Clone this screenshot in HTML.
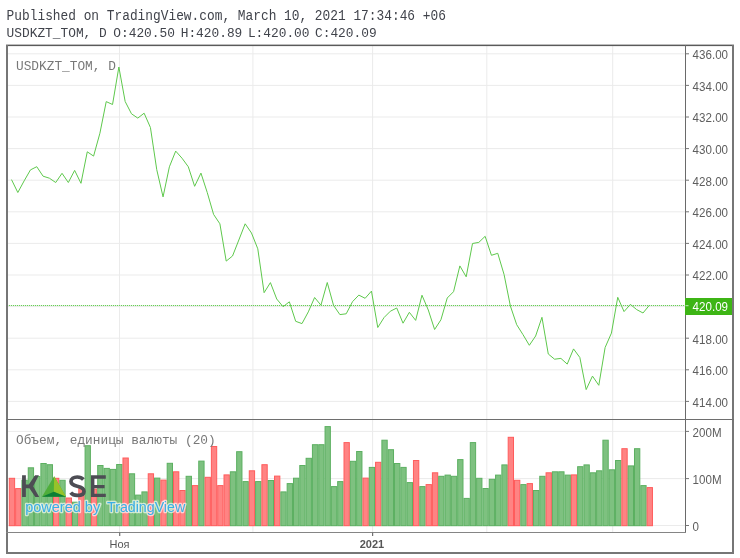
<!DOCTYPE html>
<html><head><meta charset="utf-8">
<style>
html,body{margin:0;padding:0;background:#fff;}
body{width:740px;height:558px;position:relative;overflow:hidden;}
.mono{position:absolute;font-family:"Liberation Mono",monospace;white-space:pre;color:#363a44;line-height:1;}
svg{position:absolute;left:0;top:0;will-change:transform;}
.ax{font-family:"Liberation Sans",sans-serif;font-size:11.6px;fill:#555;}
.tl{font-family:"Liberation Sans",sans-serif;font-size:11px;fill:#555;}
.logo{font-family:"Liberation Sans",sans-serif;font-size:30px;fill:#4d4d54;}
.pb{font-family:"Liberation Sans",sans-serif;font-size:14.5px;fill:#3aaee6;stroke:rgba(255,255,255,0.65);stroke-width:2.6px;paint-order:stroke;stroke-linejoin:round;}
.hd{font-family:"Liberation Mono",monospace;font-size:12.85px;fill:#40434b;}
.leg{font-family:"Liberation Mono",monospace;font-size:12.8px;fill:#787878;}
</style></head><body>
<svg width="740" height="558" viewBox="0 0 740 558">
<line x1="7.0" y1="401.4" x2="685.5" y2="401.4" stroke="#ebebeb" stroke-width="1"/>
<line x1="7.0" y1="369.8" x2="685.5" y2="369.8" stroke="#ebebeb" stroke-width="1"/>
<line x1="7.0" y1="338.2" x2="685.5" y2="338.2" stroke="#ebebeb" stroke-width="1"/>
<line x1="7.0" y1="306.6" x2="685.5" y2="306.6" stroke="#ebebeb" stroke-width="1"/>
<line x1="7.0" y1="275" x2="685.5" y2="275" stroke="#ebebeb" stroke-width="1"/>
<line x1="7.0" y1="243.4" x2="685.5" y2="243.4" stroke="#ebebeb" stroke-width="1"/>
<line x1="7.0" y1="211.8" x2="685.5" y2="211.8" stroke="#ebebeb" stroke-width="1"/>
<line x1="7.0" y1="180.2" x2="685.5" y2="180.2" stroke="#ebebeb" stroke-width="1"/>
<line x1="7.0" y1="148.6" x2="685.5" y2="148.6" stroke="#ebebeb" stroke-width="1"/>
<line x1="7.0" y1="117" x2="685.5" y2="117" stroke="#ebebeb" stroke-width="1"/>
<line x1="7.0" y1="85.4" x2="685.5" y2="85.4" stroke="#ebebeb" stroke-width="1"/>
<line x1="7.0" y1="53.8" x2="685.5" y2="53.8" stroke="#ebebeb" stroke-width="1"/>
<line x1="119.5" y1="45.5" x2="119.5" y2="532.5" stroke="#ebebeb" stroke-width="1"/>
<line x1="252.9" y1="45.5" x2="252.9" y2="532.5" stroke="#ebebeb" stroke-width="1"/>
<line x1="372.6" y1="45.5" x2="372.6" y2="532.5" stroke="#ebebeb" stroke-width="1"/>
<line x1="486.8" y1="45.5" x2="486.8" y2="532.5" stroke="#ebebeb" stroke-width="1"/>
<line x1="612.7" y1="45.5" x2="612.7" y2="532.5" stroke="#ebebeb" stroke-width="1"/>
<line x1="7.0" y1="431.4" x2="685.5" y2="431.4" stroke="#ebebeb" stroke-width="1"/>
<line x1="7.0" y1="478.6" x2="685.5" y2="478.6" stroke="#ebebeb" stroke-width="1"/>
<line x1="7.0" y1="525.5" x2="685.5" y2="525.5" stroke="#ebebeb" stroke-width="1"/>
<rect x="9.3" y="478.3" width="5.32" height="47.4" fill="#ff8383" stroke="#ff5c5c" stroke-width="1"/>
<rect x="15.62" y="488.6" width="5.32" height="37.1" fill="#ff8383" stroke="#ff5c5c" stroke-width="1"/>
<rect x="21.93" y="480.2" width="5.32" height="45.5" fill="#7ec180" stroke="#5cb061" stroke-width="1"/>
<rect x="28.25" y="467.8" width="5.32" height="57.9" fill="#7ec180" stroke="#5cb061" stroke-width="1"/>
<rect x="34.56" y="476.5" width="5.32" height="49.2" fill="#7ec180" stroke="#5cb061" stroke-width="1"/>
<rect x="40.88" y="463.5" width="5.32" height="62.2" fill="#7ec180" stroke="#5cb061" stroke-width="1"/>
<rect x="47.19" y="464.7" width="5.32" height="61" fill="#7ec180" stroke="#5cb061" stroke-width="1"/>
<rect x="53.51" y="478.3" width="5.32" height="47.4" fill="#ff8383" stroke="#ff5c5c" stroke-width="1"/>
<rect x="59.82" y="480.3" width="5.32" height="45.4" fill="#7ec180" stroke="#5cb061" stroke-width="1"/>
<rect x="66.14" y="498" width="5.32" height="27.7" fill="#ff8383" stroke="#ff5c5c" stroke-width="1"/>
<rect x="72.45" y="502.2" width="5.32" height="23.5" fill="#7ec180" stroke="#5cb061" stroke-width="1"/>
<rect x="78.77" y="488.7" width="5.32" height="37" fill="#ff8383" stroke="#ff5c5c" stroke-width="1"/>
<rect x="85.08" y="445.7" width="5.32" height="80" fill="#7ec180" stroke="#5cb061" stroke-width="1"/>
<rect x="91.39" y="489.1" width="5.32" height="36.6" fill="#ff8383" stroke="#ff5c5c" stroke-width="1"/>
<rect x="97.71" y="465.5" width="5.32" height="60.2" fill="#7ec180" stroke="#5cb061" stroke-width="1"/>
<rect x="104.03" y="468.4" width="5.32" height="57.3" fill="#7ec180" stroke="#5cb061" stroke-width="1"/>
<rect x="110.34" y="469.4" width="5.32" height="56.3" fill="#7ec180" stroke="#5cb061" stroke-width="1"/>
<rect x="116.66" y="464.5" width="5.32" height="61.2" fill="#7ec180" stroke="#5cb061" stroke-width="1"/>
<rect x="122.97" y="458" width="5.32" height="67.7" fill="#ff8383" stroke="#ff5c5c" stroke-width="1"/>
<rect x="129.29" y="473.8" width="5.32" height="51.9" fill="#7ec180" stroke="#5cb061" stroke-width="1"/>
<rect x="135.6" y="495.1" width="5.32" height="30.6" fill="#7ec180" stroke="#5cb061" stroke-width="1"/>
<rect x="141.92" y="491.9" width="5.32" height="33.8" fill="#7ec180" stroke="#5cb061" stroke-width="1"/>
<rect x="148.23" y="473.8" width="5.32" height="51.9" fill="#ff8383" stroke="#ff5c5c" stroke-width="1"/>
<rect x="154.55" y="478.1" width="5.32" height="47.6" fill="#7ec180" stroke="#5cb061" stroke-width="1"/>
<rect x="160.86" y="480.1" width="5.32" height="45.6" fill="#ff8383" stroke="#ff5c5c" stroke-width="1"/>
<rect x="167.18" y="463.3" width="5.32" height="62.4" fill="#7ec180" stroke="#5cb061" stroke-width="1"/>
<rect x="173.49" y="471.8" width="5.32" height="53.9" fill="#ff8383" stroke="#ff5c5c" stroke-width="1"/>
<rect x="179.81" y="490.5" width="5.32" height="35.2" fill="#ff8383" stroke="#ff5c5c" stroke-width="1"/>
<rect x="186.12" y="476.3" width="5.32" height="49.4" fill="#7ec180" stroke="#5cb061" stroke-width="1"/>
<rect x="192.44" y="485.6" width="5.32" height="40.1" fill="#ff8383" stroke="#ff5c5c" stroke-width="1"/>
<rect x="198.75" y="461.1" width="5.32" height="64.6" fill="#7ec180" stroke="#5cb061" stroke-width="1"/>
<rect x="205.07" y="477.3" width="5.32" height="48.4" fill="#ff8383" stroke="#ff5c5c" stroke-width="1"/>
<rect x="211.38" y="446.5" width="5.32" height="79.2" fill="#ff8383" stroke="#ff5c5c" stroke-width="1"/>
<rect x="217.7" y="485.6" width="5.32" height="40.1" fill="#ff8383" stroke="#ff5c5c" stroke-width="1"/>
<rect x="224.01" y="474.9" width="5.32" height="50.8" fill="#ff8383" stroke="#ff5c5c" stroke-width="1"/>
<rect x="230.33" y="471.8" width="5.32" height="53.9" fill="#7ec180" stroke="#5cb061" stroke-width="1"/>
<rect x="236.64" y="451.7" width="5.32" height="74" fill="#7ec180" stroke="#5cb061" stroke-width="1"/>
<rect x="242.96" y="481.6" width="5.32" height="44.1" fill="#7ec180" stroke="#5cb061" stroke-width="1"/>
<rect x="249.27" y="470.8" width="5.32" height="54.9" fill="#ff8383" stroke="#ff5c5c" stroke-width="1"/>
<rect x="255.59" y="481.6" width="5.32" height="44.1" fill="#7ec180" stroke="#5cb061" stroke-width="1"/>
<rect x="261.9" y="464.7" width="5.32" height="61" fill="#ff8383" stroke="#ff5c5c" stroke-width="1"/>
<rect x="268.22" y="480.5" width="5.32" height="45.2" fill="#7ec180" stroke="#5cb061" stroke-width="1"/>
<rect x="274.53" y="476.1" width="5.32" height="49.6" fill="#ff8383" stroke="#ff5c5c" stroke-width="1"/>
<rect x="280.85" y="491.9" width="5.32" height="33.8" fill="#7ec180" stroke="#5cb061" stroke-width="1"/>
<rect x="287.16" y="483.6" width="5.32" height="42.1" fill="#7ec180" stroke="#5cb061" stroke-width="1"/>
<rect x="293.48" y="478.2" width="5.32" height="47.5" fill="#7ec180" stroke="#5cb061" stroke-width="1"/>
<rect x="299.79" y="465.5" width="5.32" height="60.2" fill="#7ec180" stroke="#5cb061" stroke-width="1"/>
<rect x="306.11" y="458.3" width="5.32" height="67.4" fill="#7ec180" stroke="#5cb061" stroke-width="1"/>
<rect x="312.42" y="444.7" width="5.32" height="81" fill="#7ec180" stroke="#5cb061" stroke-width="1"/>
<rect x="318.74" y="444.7" width="5.32" height="81" fill="#7ec180" stroke="#5cb061" stroke-width="1"/>
<rect x="325.05" y="426.6" width="5.32" height="99.1" fill="#7ec180" stroke="#5cb061" stroke-width="1"/>
<rect x="331.37" y="486.6" width="5.32" height="39.1" fill="#7ec180" stroke="#5cb061" stroke-width="1"/>
<rect x="337.68" y="481.6" width="5.32" height="44.1" fill="#7ec180" stroke="#5cb061" stroke-width="1"/>
<rect x="344" y="442.6" width="5.32" height="83.1" fill="#ff8383" stroke="#ff5c5c" stroke-width="1"/>
<rect x="350.31" y="461.3" width="5.32" height="64.4" fill="#7ec180" stroke="#5cb061" stroke-width="1"/>
<rect x="356.63" y="451.5" width="5.32" height="74.2" fill="#7ec180" stroke="#5cb061" stroke-width="1"/>
<rect x="362.94" y="478.1" width="5.32" height="47.6" fill="#ff8383" stroke="#ff5c5c" stroke-width="1"/>
<rect x="369.26" y="467.4" width="5.32" height="58.3" fill="#7ec180" stroke="#5cb061" stroke-width="1"/>
<rect x="375.57" y="462.3" width="5.32" height="63.4" fill="#ff8383" stroke="#ff5c5c" stroke-width="1"/>
<rect x="381.89" y="440.2" width="5.32" height="85.5" fill="#7ec180" stroke="#5cb061" stroke-width="1"/>
<rect x="388.2" y="449.7" width="5.32" height="76" fill="#7ec180" stroke="#5cb061" stroke-width="1"/>
<rect x="394.52" y="463.5" width="5.32" height="62.2" fill="#7ec180" stroke="#5cb061" stroke-width="1"/>
<rect x="400.83" y="467.4" width="5.32" height="58.3" fill="#7ec180" stroke="#5cb061" stroke-width="1"/>
<rect x="407.15" y="482.6" width="5.32" height="43.1" fill="#7ec180" stroke="#5cb061" stroke-width="1"/>
<rect x="413.46" y="460.5" width="5.32" height="65.2" fill="#ff8383" stroke="#ff5c5c" stroke-width="1"/>
<rect x="419.78" y="486.6" width="5.32" height="39.1" fill="#7ec180" stroke="#5cb061" stroke-width="1"/>
<rect x="426.09" y="484.6" width="5.32" height="41.1" fill="#ff8383" stroke="#ff5c5c" stroke-width="1"/>
<rect x="432.41" y="472.8" width="5.32" height="52.9" fill="#ff8383" stroke="#ff5c5c" stroke-width="1"/>
<rect x="438.72" y="476.3" width="5.32" height="49.4" fill="#7ec180" stroke="#5cb061" stroke-width="1"/>
<rect x="445.04" y="475.1" width="5.32" height="50.6" fill="#7ec180" stroke="#5cb061" stroke-width="1"/>
<rect x="451.35" y="476.3" width="5.32" height="49.4" fill="#7ec180" stroke="#5cb061" stroke-width="1"/>
<rect x="457.67" y="459.6" width="5.32" height="66.1" fill="#7ec180" stroke="#5cb061" stroke-width="1"/>
<rect x="463.98" y="498.4" width="5.32" height="27.3" fill="#7ec180" stroke="#5cb061" stroke-width="1"/>
<rect x="470.3" y="442.6" width="5.32" height="83.1" fill="#7ec180" stroke="#5cb061" stroke-width="1"/>
<rect x="476.61" y="478.3" width="5.32" height="47.4" fill="#7ec180" stroke="#5cb061" stroke-width="1"/>
<rect x="482.93" y="488.5" width="5.32" height="37.2" fill="#7ec180" stroke="#5cb061" stroke-width="1"/>
<rect x="489.24" y="479.3" width="5.32" height="46.4" fill="#7ec180" stroke="#5cb061" stroke-width="1"/>
<rect x="495.56" y="475.1" width="5.32" height="50.6" fill="#7ec180" stroke="#5cb061" stroke-width="1"/>
<rect x="501.87" y="464.9" width="5.32" height="60.8" fill="#7ec180" stroke="#5cb061" stroke-width="1"/>
<rect x="508.19" y="437.3" width="5.32" height="88.4" fill="#ff8383" stroke="#ff5c5c" stroke-width="1"/>
<rect x="514.5" y="480.3" width="5.32" height="45.4" fill="#ff8383" stroke="#ff5c5c" stroke-width="1"/>
<rect x="520.82" y="484.6" width="5.32" height="41.1" fill="#7ec180" stroke="#5cb061" stroke-width="1"/>
<rect x="527.13" y="483.6" width="5.32" height="42.1" fill="#ff8383" stroke="#ff5c5c" stroke-width="1"/>
<rect x="533.44" y="490.5" width="5.32" height="35.2" fill="#7ec180" stroke="#5cb061" stroke-width="1"/>
<rect x="539.76" y="476.3" width="5.32" height="49.4" fill="#7ec180" stroke="#5cb061" stroke-width="1"/>
<rect x="546.07" y="472.8" width="5.32" height="52.9" fill="#ff8383" stroke="#ff5c5c" stroke-width="1"/>
<rect x="552.39" y="471.8" width="5.32" height="53.9" fill="#7ec180" stroke="#5cb061" stroke-width="1"/>
<rect x="558.71" y="471.8" width="5.32" height="53.9" fill="#7ec180" stroke="#5cb061" stroke-width="1"/>
<rect x="565.02" y="475.1" width="5.32" height="50.6" fill="#7ec180" stroke="#5cb061" stroke-width="1"/>
<rect x="571.34" y="474.9" width="5.32" height="50.8" fill="#ff8383" stroke="#ff5c5c" stroke-width="1"/>
<rect x="577.65" y="466.7" width="5.32" height="59" fill="#7ec180" stroke="#5cb061" stroke-width="1"/>
<rect x="583.97" y="464.9" width="5.32" height="60.8" fill="#7ec180" stroke="#5cb061" stroke-width="1"/>
<rect x="590.28" y="472.8" width="5.32" height="52.9" fill="#7ec180" stroke="#5cb061" stroke-width="1"/>
<rect x="596.6" y="470.8" width="5.32" height="54.9" fill="#7ec180" stroke="#5cb061" stroke-width="1"/>
<rect x="602.91" y="440.2" width="5.32" height="85.5" fill="#7ec180" stroke="#5cb061" stroke-width="1"/>
<rect x="609.23" y="469.8" width="5.32" height="55.9" fill="#7ec180" stroke="#5cb061" stroke-width="1"/>
<rect x="615.54" y="460.5" width="5.32" height="65.2" fill="#7ec180" stroke="#5cb061" stroke-width="1"/>
<rect x="621.86" y="448.7" width="5.32" height="77" fill="#ff8383" stroke="#ff5c5c" stroke-width="1"/>
<rect x="628.17" y="465.9" width="5.32" height="59.8" fill="#7ec180" stroke="#5cb061" stroke-width="1"/>
<rect x="634.49" y="448.7" width="5.32" height="77" fill="#7ec180" stroke="#5cb061" stroke-width="1"/>
<rect x="640.8" y="485.6" width="5.32" height="40.1" fill="#7ec180" stroke="#5cb061" stroke-width="1"/>
<rect x="647.12" y="487.6" width="5.32" height="38.1" fill="#ff8383" stroke="#ff5c5c" stroke-width="1"/>
<line x1="7" y1="305.5" x2="685" y2="305.5" stroke="rgba(106,205,88,0.22)" stroke-width="1"/>
<line x1="7" y1="305.5" x2="685" y2="305.5" stroke="#6acd58" stroke-width="1" stroke-dasharray="1 1"/>
<polyline points="11.5,179.6 17.82,192.5 24.13,180.9 30.45,169.9 36.76,166.7 43.08,176.2 49.39,178.2 55.71,182.5 62.02,173.3 68.34,182.5 74.65,170.4 80.97,183.3 87.28,151.8 93.59,156.1 99.91,133.2 106.23,101.6 112.54,104.5 118.86,67 125.17,101.5 131.49,113.8 137.8,118.1 144.12,113.2 150.43,127.5 156.75,169.7 163.06,196.9 169.38,166.8 175.69,151.1 182.01,158.2 188.32,166.8 194.64,186.3 200.95,173.1 207.27,192.6 213.58,214.4 219.9,223.8 226.21,261.1 232.53,256 238.84,240 245.16,223.8 251.47,233 257.79,248.8 264.1,292.7 270.42,282.6 276.73,299 283.05,306.7 289.36,301.8 295.68,321.3 301.99,323.6 308.31,311.9 314.62,297.5 320.94,305.2 327.25,282.5 333.56,305.4 339.88,314.6 346.19,313.8 352.51,301.7 358.83,295.1 365.14,298.3 371.46,291.1 377.77,327.5 384.09,317.5 390.4,311.2 396.72,308 403.03,323.2 409.35,312.3 415.66,320.4 421.98,295.2 428.29,310 434.61,329.5 440.92,319.8 447.24,298 453.55,291.7 459.87,265.9 466.18,276.8 472.5,243.5 478.81,242.4 485.13,236.3 491.44,255.3 497.76,253.3 504.07,274.5 510.39,306 516.7,324.7 523.02,334.7 529.33,345.3 535.64,336 541.96,317.3 548.27,354 554.59,359.2 560.91,358.4 567.22,364.1 573.54,348.9 579.85,357.5 586.17,389.6 592.48,376.1 598.8,385.3 605.11,347.5 611.43,333.1 617.74,297.3 624.06,311.6 630.37,304.4 636.69,309.6 643,313 649.32,305.3" fill="none" stroke="#5ec84c" stroke-width="1" stroke-linejoin="miter"/>
<rect x="6" y="44.6" width="728" height="1.5" fill="#5a5a5a"/>
<rect x="6" y="45" width="2" height="509" fill="#767676"/>
<rect x="732" y="45" width="2" height="509" fill="#767676"/>
<rect x="6" y="552" width="728" height="2" fill="#767676"/>
<rect x="685" y="45" width="1" height="488" fill="#6a6a6a"/>
<rect x="6" y="419" width="728" height="1" fill="#6e6e6e"/>
<rect x="6" y="532" width="680" height="1" fill="#858585"/>
<line x1="685.5" y1="401.4" x2="689.0" y2="401.4" stroke="#767676" stroke-width="1"/>
<text transform="translate(692.6,406.7) scale(1,1.12)" class="ax" style="fill:#5e5e5e" >414.00</text>
<line x1="685.5" y1="369.8" x2="689.0" y2="369.8" stroke="#767676" stroke-width="1"/>
<text transform="translate(692.6,375.1) scale(1,1.12)" class="ax" style="fill:#5e5e5e" >416.00</text>
<line x1="685.5" y1="338.2" x2="689.0" y2="338.2" stroke="#767676" stroke-width="1"/>
<text transform="translate(692.6,343.5) scale(1,1.12)" class="ax" style="fill:#5e5e5e" >418.00</text>
<line x1="685.5" y1="306.6" x2="689.0" y2="306.6" stroke="#767676" stroke-width="1"/>
<text transform="translate(692.6,311.9) scale(1,1.12)" class="ax" style="fill:#5e5e5e" >420.00</text>
<line x1="685.5" y1="275" x2="689.0" y2="275" stroke="#767676" stroke-width="1"/>
<text transform="translate(692.6,280.3) scale(1,1.12)" class="ax" style="fill:#5e5e5e" >422.00</text>
<line x1="685.5" y1="243.4" x2="689.0" y2="243.4" stroke="#767676" stroke-width="1"/>
<text transform="translate(692.6,248.7) scale(1,1.12)" class="ax" style="fill:#5e5e5e" >424.00</text>
<line x1="685.5" y1="211.8" x2="689.0" y2="211.8" stroke="#767676" stroke-width="1"/>
<text transform="translate(692.6,217.1) scale(1,1.12)" class="ax" style="fill:#5e5e5e" >426.00</text>
<line x1="685.5" y1="180.2" x2="689.0" y2="180.2" stroke="#767676" stroke-width="1"/>
<text transform="translate(692.6,185.5) scale(1,1.12)" class="ax" style="fill:#5e5e5e" >428.00</text>
<line x1="685.5" y1="148.6" x2="689.0" y2="148.6" stroke="#767676" stroke-width="1"/>
<text transform="translate(692.6,153.9) scale(1,1.12)" class="ax" style="fill:#5e5e5e" >430.00</text>
<line x1="685.5" y1="117" x2="689.0" y2="117" stroke="#767676" stroke-width="1"/>
<text transform="translate(692.6,122.3) scale(1,1.12)" class="ax" style="fill:#5e5e5e" >432.00</text>
<line x1="685.5" y1="85.4" x2="689.0" y2="85.4" stroke="#767676" stroke-width="1"/>
<text transform="translate(692.6,90.7) scale(1,1.12)" class="ax" style="fill:#5e5e5e" >434.00</text>
<line x1="685.5" y1="53.8" x2="689.0" y2="53.8" stroke="#767676" stroke-width="1"/>
<text transform="translate(692.6,59.1) scale(1,1.12)" class="ax" style="fill:#5e5e5e" >436.00</text>
<line x1="685.5" y1="431.4" x2="689.0" y2="431.4" stroke="#767676" stroke-width="1"/>
<text transform="translate(692.6,436.5) scale(1,1.12)" class="ax" style="fill:#5e5e5e" >200M</text>
<line x1="685.5" y1="478.6" x2="689.0" y2="478.6" stroke="#767676" stroke-width="1"/>
<text transform="translate(692.6,483.7) scale(1,1.12)" class="ax" style="fill:#5e5e5e" >100M</text>
<line x1="685.5" y1="525.5" x2="689.0" y2="525.5" stroke="#767676" stroke-width="1"/>
<text transform="translate(692.6,530.6) scale(1,1.12)" class="ax" style="fill:#5e5e5e" >0</text>
<rect x="685" y="298" width="47" height="17" fill="#3db515"/>
<line x1="685.5" y1="305.7" x2="688.5" y2="305.7" stroke="#c8ecc0" stroke-width="1"/>
<text transform="translate(692.6,310.9) scale(1,1.12)" class="ax" style="fill:#fff" >420.09</text>
<line x1="119.7" y1="532.5" x2="119.7" y2="536.0" stroke="#707070" stroke-width="1.2"/>
<line x1="372.6" y1="532.5" x2="372.6" y2="536.0" stroke="#707070" stroke-width="1.2"/>
<text x="119.5" y="548" class="tl" text-anchor="middle">Ноя</text>
<text x="372" y="548" class="tl" text-anchor="middle" font-weight="bold">2021</text>
<path d="M22.07,475.3 L25.86,475.3 L25.86,484.6 L28.8,484.6 L35.04,475.3 L38.9,475.3 L33.2,486.3 L39.2,496.9 L35.3,496.9 L29.4,488.2 L25.86,488.2 L25.86,496.9 L22.07,496.9 Z" fill="#4d4d54"/>
<path d="M54.15,476.3 L42,496.8 L66.1,496.8 Z" fill="#4fae3a"/>
<path d="M54.15,476.3 L66.1,496.8 L53.8,491.8 Z" fill="#96c32a"/>
<path d="M42,496.8 L53.8,491.8 L66.1,496.8 Z" fill="#0d7e35"/>
<path d="M83.4,479.4 C81.8,477.6 79.6,477 77.2,477 C73.6,477 71,478.8 71,481.6 C71,484.6 74,485.5 77.3,486.2 C81.1,487 84,488.3 84,491.4 C84,494.1 81.1,495.4 77.2,495.4 C74.5,495.4 72.2,494.5 70.7,492.6" fill="none" stroke="#4d4d54" stroke-width="3.7"/>
<path d="M91,475.3 H105.8 V478.8 H94.4 V485 H104.6 V488.3 H94.4 V493.8 H105.8 V497.1 H91 Z" fill="#4d4d54"/>
<text x="25.2" y="512.2" class="pb" textLength="75" lengthAdjust="spacingAndGlyphs">powered by</text>
<text x="107" y="512.2" class="pb" textLength="78.2" lengthAdjust="spacingAndGlyphs">TradingView</text>
<text transform="translate(6.6,19.8) scale(1,1.1)" class="hd">Published on TradingView.com, March 10, 2021 17:34:46 +06</text>
<text transform="translate(6.6,37) scale(1,1.04)" class="hd">USDKZT_TOM, D</text>
<text transform="translate(113.3,37) scale(1,1.04)" class="hd">O:420.50</text>
<text transform="translate(180.7,37) scale(1,1.04)" class="hd">H:420.89</text>
<text transform="translate(247.9,37) scale(1,1.04)" class="hd">L:420.00</text>
<text transform="translate(315,37) scale(1,1.04)" class="hd">C:420.09</text>
<text x="16" y="70" class="leg">USDKZT_TOM, D</text>
<text x="16" y="443.6" class="leg">Объем, единицы валюты (20)</text>
</svg>
</body></html>
